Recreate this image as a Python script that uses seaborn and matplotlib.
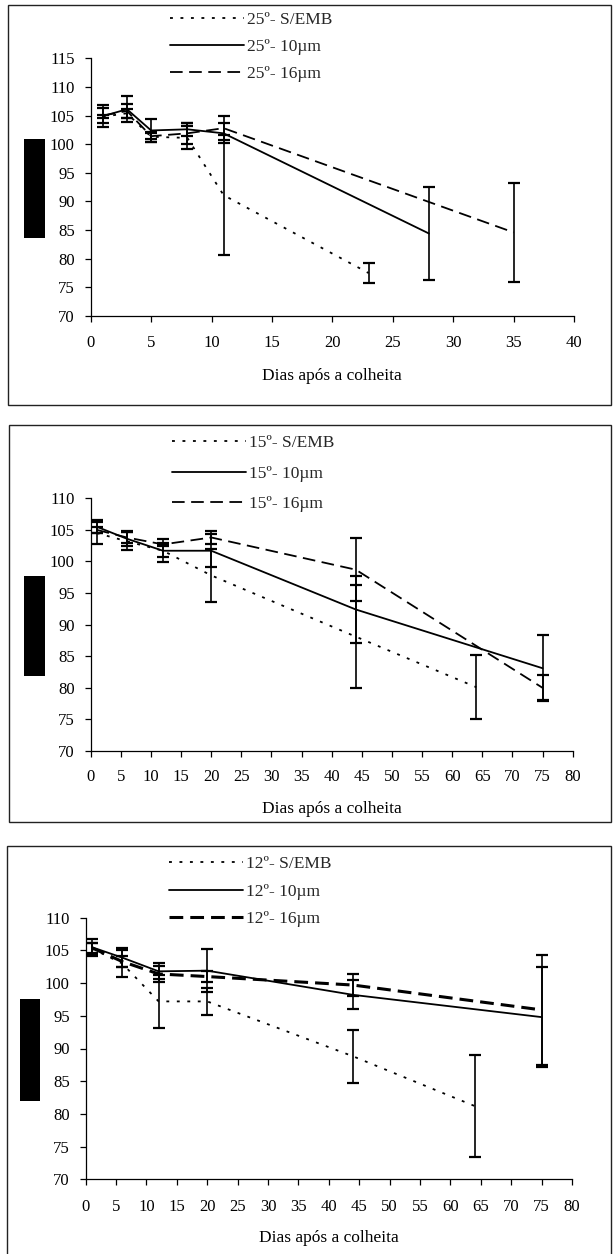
import matplotlib
matplotlib.use("Agg")
import matplotlib.pyplot as plt
from matplotlib.patches import Rectangle
import pandas as pd
import seaborn as sns

# ---------------- data: mass (%) vs days after harvest ----------------
# 25 ºC
sem25_x = [1, 3, 5, 8, 11, 23]
sem25_y = [104.8, 105.4, 101.3, 101.1, 91.1, 77.5]
sem25_e = [0.3, 0.8, 0.9, 2.0, 10.5, 1.8]
f10_25_x = [1, 3, 5, 8, 11, 28]
f10_25_y = [104.9, 106.1, 102.4, 102.6, 101.9, 84.4]
f10_25_e = [1.95, 2.3, 2.0, 1.1, 1.75, 8.1]
f16_25_x = [1, 3, 5, 8, 11, 35]
f16_25_y = [105.0, 105.8, 101.4, 101.9, 102.8, 84.6]
f16_25_e = [1.3, 1.3, 0.5, 1.8, 2.1, 8.6]

# 15 ºC
sem15_x = [1, 6, 12, 20, 44, 64]
sem15_y = [104.5, 103.2, 101.7, 97.8, 88.1, 80.1]
sem15_e = [1.8, 1.4, 1.0, 4.2, 8.1, 5.1]
f10_15_x = [1, 6, 12, 20, 44, 75]
f10_15_y = [105.5, 103.6, 101.7, 101.7, 92.4, 83.1]
f10_15_e = [1.0, 1.2, 1.8, 2.6, 5.3, 5.2]
f16_15_x = [1, 6, 12, 20, 44, 75]
f16_15_y = [105.0, 103.8, 102.7, 103.8, 98.7, 80.0]
f16_15_e = [0.5, 0.8, 0.3, 1.0, 5.0, 2.0]

# 12 ºC
sem12_x = [1, 6, 12, 20, 44, 64]
sem12_y = [105.3, 103.0, 97.2, 97.2, 88.8, 81.2]
sem12_e = [0.9, 2.1, 4.0, 2.1, 4.0, 7.75]
f10_12_x = [1, 6, 12, 20, 44, 75]
f10_12_y = [105.5, 103.9, 101.8, 101.9, 98.2, 94.8]
f10_12_e = [1.3, 1.4, 1.2, 3.3, 2.2, 7.6]
f16_12_x = [1, 6, 12, 20, 44, 75]
f16_12_y = [105.4, 103.3, 101.4, 101.0, 99.7, 95.9]
f16_12_e = [0.8, 0.9, 1.2, 0.8, 1.7, 8.4]

temps = ["25º", "15º", "12º"]
series_names = ["S/EMB", "10µm", "16µm"]
x_label = "Dias após a colheita"
x_ticks_25 = list(range(0, 41, 5))
x_ticks_long = list(range(0, 81, 5))
y_ticks_25 = list(range(70, 116, 5))
y_ticks_other = list(range(70, 111, 5))

panel_data = [
    [(sem25_x, sem25_y, sem25_e), (f10_25_x, f10_25_y, f10_25_e), (f16_25_x, f16_25_y, f16_25_e)],
    [(sem15_x, sem15_y, sem15_e), (f10_15_x, f10_15_y, f10_15_e), (f16_15_x, f16_15_y, f16_15_e)],
    [(sem12_x, sem12_y, sem12_e), (f10_12_x, f10_12_y, f10_12_e), (f16_12_x, f16_12_y, f16_12_e)],
]
panel_xticks = [x_ticks_25, x_ticks_long, x_ticks_long]
panel_yticks = [y_ticks_25, y_ticks_other, y_ticks_other]

# ---------------- layout (pixels on a 613 x 1254 canvas) ----------------
W, H = 613, 1254
def fx(px):
    return px / W
def fy(py):
    return 1 - py / H

# axes: left, top, right, bottom
axes_px = [(90.7, 58.3, 574.0, 316.0), (90.7, 498.3, 572.7, 751.0), (85.7, 917.7, 572.0, 1179.3)]
frames_px = [(8, 5, 611, 404.5), (9, 424.5, 611, 822), (7, 846, 611, 1258)]
blocks_px = [(24, 139, 45, 238), (24, 576, 45, 676), (19.5, 999, 40, 1101)]
legend_px = [(170, 12.0, 0.62), (172, 435.0, 0.83), (169, 856.0, 0.66)]
xlabel_px = [(332, 376), (332, 809), (329, 1238)]
xpad = [9.0, 8.5, 10.0]

FS_TICK = 12
FS_TEXT = 12.5
sns.set_theme(style="ticks")
plt.rcParams["font.family"] = ["Liberation Serif", "DejaVu Serif"]

styles = [
    dict(linestyle=(0, (1.6, 4.2)), lw=1.3),
    dict(linestyle="-", lw=1.3),
    dict(linestyle=(0, (7.0, 3.6)), lw=1.3),
]

fig = plt.figure(figsize=(W / 100, H / 100), dpi=100)

for i in range(3):
    l, t, r, b = axes_px[i]
    ax = fig.add_axes([fx(l), fy(b), fx(r) - fx(l), (b - t) / H])
    for j, (xs, ys, es) in enumerate(panel_data[i]):
        st = dict(styles[j])
        if i == 2 and j == 2:
            st["lw"] = 2.2
            st["linestyle"] = (0, (4.5, 2.3))
        df = pd.DataFrame({"dia": xs, "massa": ys})
        sns.lineplot(data=df, x="dia", y="massa", ax=ax, color="black",
                     estimator=None, sort=False,
                     label=f"{temps[i]}- {series_names[j]}", **st)
        ax.errorbar(xs, ys, yerr=es, fmt="none", ecolor="black",
                    elinewidth=1.2, capsize=4.0, capthick=1.6, zorder=3)

    xt, yt = panel_xticks[i], panel_yticks[i]
    ax.set_xlim(xt[0], xt[-1])
    ax.set_ylim(yt[0], yt[-1])
    ax.set_xticks(xt)
    ax.set_yticks(yt)
    ax.set_ylabel("")
    sns.despine(ax=ax)
    for s in ("left", "bottom"):
        ax.spines[s].set_color("black")
        ax.spines[s].set_linewidth(0.9)
    ax.tick_params(axis="both", direction="out", length=4.5, width=0.9,
                   color="black", labelsize=FS_TICK, labelcolor="black")
    ax.tick_params(axis="x", pad=xpad[i])
    ax.tick_params(axis="y", pad=7.0)

    ax.set_xlabel(x_label, fontsize=FS_TEXT, color="black", va="center")
    ax.xaxis.set_label_coords(fx(xlabel_px[i][0]), fy(xlabel_px[i][1]),
                              transform=fig.transFigure)

    hx, ty, lsp = legend_px[i]
    handles, labels = ax.get_legend_handles_labels()
    ax.legend(handles, labels, loc="upper left",
              bbox_to_anchor=(fx(hx), fy(ty)), bbox_transform=fig.transFigure,
              frameon=False, borderpad=0, borderaxespad=0,
              handlelength=4.26, handletextpad=0.15, labelspacing=lsp,
              fontsize=FS_TEXT)

    # panel border
    fl, ft, fr, fb = frames_px[i]
    fig.add_artist(Rectangle((fx(fl), fy(fb)), fx(fr) - fx(fl), (fb - ft) / H,
                             transform=fig.transFigure, fill=False,
                             edgecolor="#222222", lw=1.0))
    # blacked-out axis title
    bl, bt, br, bb = blocks_px[i]
    fig.add_artist(Rectangle((fx(bl), fy(bb)), fx(br) - fx(bl), (bb - bt) / H,
                             transform=fig.transFigure, facecolor="black",
                             edgecolor="none"))

fig.savefig("out.png", dpi=100, facecolor="white")
